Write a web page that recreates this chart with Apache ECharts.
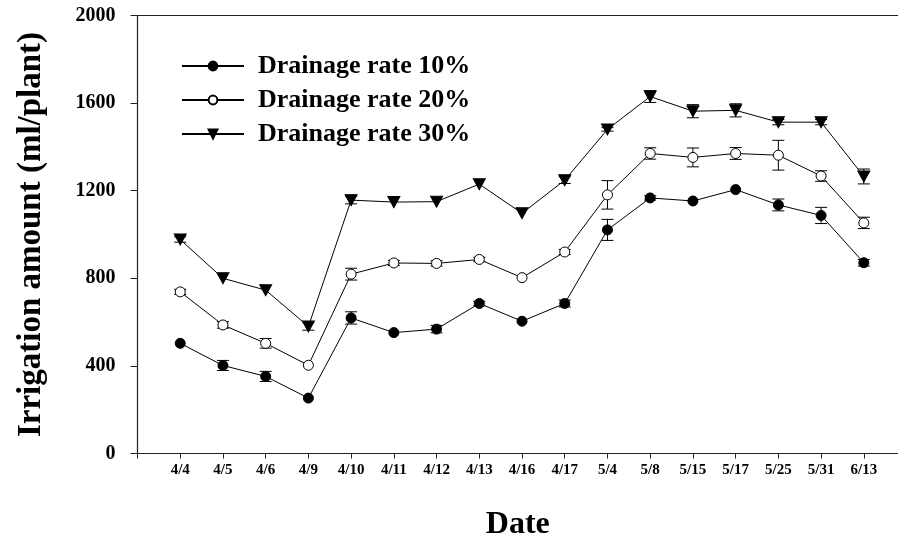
<!DOCTYPE html>
<html>
<head>
<meta charset="utf-8">
<script src="https://cdn.jsdelivr.net/npm/echarts@6/dist/echarts.min.js"></script>
<style>html,body{margin:0;padding:0;background:#fff}#c{width:898px;height:540px}</style>
</head>
<body>
<div id="c"></div>
<script>
const dates = ['4/4','4/5','4/6','4/9','4/10','4/11','4/12','4/13','4/16','4/17','5/4','5/8','5/15','5/17','5/25','5/31','6/13'];
const rate10 = [503, 402, 352, 253, 619, 552, 568, 685, 604, 685, 1021, 1167, 1153, 1205, 1135, 1087, 871];
const err10  = [0, 23, 23, 0, 28, 0, 17, 10, 0, 16, 48, 10, 0, 0, 27, 37, 15];
const rate20 = [738, 587, 503, 403, 819, 870, 868, 886, 803, 920, 1181, 1370, 1352, 1370, 1362, 1267, 1053];
const err20  = [12, 15, 22, 0, 27, 12, 12, 10, 0, 12, 65, 26, 43, 27, 68, 24, 26];
const rate30 = [977, 800, 746, 580, 1157, 1148, 1150, 1230, 1097, 1248, 1480, 1630, 1563, 1567, 1513, 1513, 1265];
const err30  = [12, 0, 0, 17, 17, 0, 0, 0, 0, 15, 8, 27, 30, 30, 12, 12, 34];
const yTicks = [0, 400, 800, 1200, 1600, 2000];

const FONT = '"Liberation Serif", "Times New Roman", serif';
const chart = echarts.init(document.getElementById('c'), null, {renderer: 'canvas'});

function pts(vals) { return vals.map((v, i) => [i, v]); }
function errData(vals, errs) { return vals.map((v, i) => [i, v - errs[i], v + errs[i]]); }
function errSeries(vals, errs) {
  return {
    type: 'custom', z: 1, silent: true,
    data: errData(vals, errs),
    renderItem: function (params, api) {
      const x = api.value(0);
      const lo = api.coord([x, api.value(1)]);
      const hi = api.coord([x, api.value(2)]);
      if (Math.abs(hi[1] - lo[1]) < 0.5) return null;
      const w = 6;
      const st = {stroke: '#000', lineWidth: 1};
      return {type: 'group', children: [
        {type: 'line', shape: {x1: lo[0], y1: lo[1], x2: hi[0], y2: hi[1]}, style: st},
        {type: 'line', shape: {x1: lo[0] - w, y1: lo[1], x2: lo[0] + w, y2: lo[1]}, style: st},
        {type: 'line', shape: {x1: hi[0] - w, y1: hi[1], x2: hi[0] + w, y2: hi[1]}, style: st}
      ]};
    }
  };
}
const lineStyle = {color: '#000', width: 1};

chart.setOption({
  animation: false,
  backgroundColor: '#fff',
  grid: {left: 137.5, right: 0, top: 15.5, bottom: 86.5, containLabel: false, outerBoundsMode: 'none'},
  legend: {
    orient: 'vertical', left: 176, top: 48, itemWidth: 62, itemHeight: 11, itemGap: 8,
    textStyle: {fontFamily: FONT, fontWeight: 'bold', fontSize: 26, color: '#000', padding: [0, 0, 0, 9]},
    data: ['Drainage rate 10%', 'Drainage rate 20%', 'Drainage rate 30%']
  },
  xAxis: [{
    type: 'value', min: -1, max: 16.8, interval: 1,
    axisLine: {onZero: false, lineStyle: {color: '#222', width: 1.2}},
    axisTick: {length: 5, lineStyle: {color: '#222'}},
    splitLine: {show: false},
    axisLabel: {
      margin: 9, fontFamily: FONT, fontWeight: 'bold', fontSize: 15, color: '#000',
      showMaxLabel: false,
      formatter: v => (Number.isInteger(v) && v >= 0 && v < dates.length) ? dates[v] : ''
    },
    name: 'Date', nameLocation: 'middle', nameGap: 55,
    nameTextStyle: {fontFamily: FONT, fontWeight: 'bold', fontSize: 32, color: '#000'}
  }, {
    type: 'value', position: 'top', min: -1, max: 16.8,
    axisLine: {show: true, onZero: false, lineStyle: {color: '#222', width: 1.2}},
    axisTick: {show: false}, axisLabel: {show: false}, splitLine: {show: false}
  }],
  yAxis: {
    type: 'value', min: yTicks[0], max: yTicks[yTicks.length - 1], interval: 400,
    axisLine: {show: true, onZero: false, lineStyle: {color: '#222', width: 1.2}},
    axisTick: {show: true, length: 7, lineStyle: {color: '#222'}},
    splitLine: {show: false},
    axisLabel: {margin: 22, fontFamily: FONT, fontWeight: 'bold', fontSize: 20, color: '#000',
      formatter: v => String(v)},
    name: 'Irrigation amount (ml/plant)', nameLocation: 'middle', nameGap: 90,
    nameTextStyle: {fontFamily: FONT, fontWeight: 'bold', fontSize: 33, color: '#000'}
  },
  series: [
    errSeries(rate10, err10),
    errSeries(rate20, err20),
    errSeries(rate30, err30),
    {name: 'Drainage rate 10%', type: 'line', z: 3, data: pts(rate10), symbol: 'circle', symbolSize: 10,
     lineStyle: lineStyle, itemStyle: {color: '#000', borderColor: '#000', borderWidth: 1}},
    {name: 'Drainage rate 20%', type: 'line', z: 3, data: pts(rate20), symbol: 'circle', symbolSize: 10,
     lineStyle: lineStyle, itemStyle: {color: '#fff', borderColor: '#000', borderWidth: 1}},
    {name: 'Drainage rate 30%', type: 'line', z: 3, data: pts(rate30), symbol: 'path://M0,0 L12,0 L6,11 Z', symbolSize: [12, 11],
     lineStyle: lineStyle, itemStyle: {color: '#000', borderColor: '#000', borderWidth: 1}}
  ]
});
</script>
</body>
</html>
